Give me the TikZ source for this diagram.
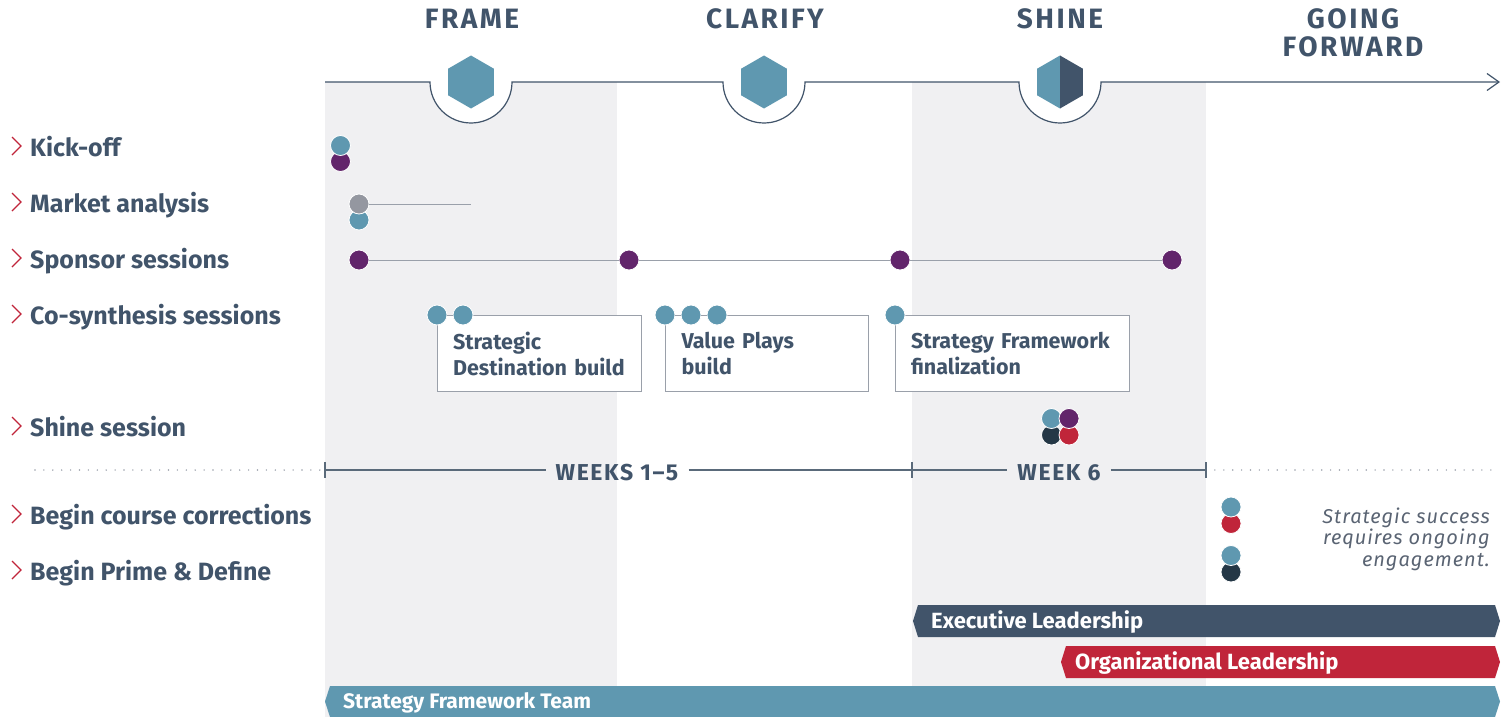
\documentclass[tikz,border=0pt]{standalone}
\usepackage{fontspec}
\setmainfont{Fira Sans}
\newfontfamily\ttlfont[LetterSpace=9]{Fira Sans}
\newfontfamily\wkfont[LetterSpace=7]{Fira Sans}
\newfontfamily\notefont[LetterSpace=5]{Fira Sans}
\usetikzlibrary{arrows.meta,calc}
\definecolor{cTeal}{HTML}{5F98B0}
\definecolor{cSlate}{HTML}{41546A}
\definecolor{cPurple}{HTML}{62256B}
\definecolor{cGrayDot}{HTML}{9497A0}
\definecolor{cRed}{HTML}{C0253A}
\definecolor{cNavy}{HTML}{243746}
\definecolor{cCol}{HTML}{F0F0F2}
\definecolor{cBox}{HTML}{9AA0AA}
\definecolor{cLine}{HTML}{5A6A7A}
\definecolor{cNote}{HTML}{5A6473}
\begin{document}
\begin{tikzpicture}[x=1pt,y=-1pt,
  dot/.style={circle,draw=white,line width=0.8pt,minimum size=20pt,inner sep=0pt},
  lbl/.style={anchor=base west,text=cSlate,font=\fontsize{25}{28}\selectfont\bfseries,inner sep=0pt},
  ttl/.style={anchor=base,text=cSlate,font=\ttlfont\fontsize{28}{28}\selectfont\bfseries,inner sep=0pt,align=center},
  wk/.style={text=cSlate,font=\wkfont\fontsize{23}{24}\selectfont\bfseries,inner xsep=10pt,inner ysep=0pt},
  sbox/.style={draw=cBox,line width=1pt,fill=white,anchor=north west,minimum height=76pt,align=left,inner xsep=16pt,inner ysep=0pt,text=cSlate,font=\fontsize{21.5}{26}\selectfont\bfseries},
  chev/.style={draw=cRed,line width=1.3pt},
  bartxt/.style={anchor=west,text=white,font=\fontsize{22}{24}\selectfont\bfseries,inner sep=0pt},
  conn/.style={draw=cBox,line width=1pt},
  topline/.style={draw=cSlate,line width=1.2pt}
]
\useasboundingbox (0,0) rectangle (1510,717);
% column backgrounds
\fill[cCol] (325,82) rectangle (617,717);
\fill[cCol] (912,82) rectangle (1206,717);
% notches
\fill[white] (430,82) arc[start angle=180,end angle=360,radius=41pt] -- cycle;
\fill[white] (723,82) arc[start angle=180,end angle=360,radius=41pt] -- cycle;
\fill[white] (1019,82) arc[start angle=180,end angle=360,radius=41pt] -- cycle;
\coordinate (lstart) at (325,82);
\coordinate (lend) at (1500,82);
\draw[topline,-{Straight Barb[length=12pt,width=17pt,line width=1.2pt]}] (lstart) -- (430,82)
  arc[start angle=180,end angle=360,radius=41pt] -- (723,82)
  arc[start angle=180,end angle=360,radius=41pt] -- (1019,82)
  arc[start angle=180,end angle=360,radius=41pt] -- (lend);
% hexagons
\begin{scope}[shift={(471,82)}]
  \fill[cTeal] (90:26.5pt) -- (150:26.5pt) -- (210:26.5pt) -- (270:26.5pt) -- (330:26.5pt) -- (30:26.5pt) -- cycle;
\end{scope}
\begin{scope}[shift={(764,82)}]
  \fill[cTeal] (90:26.5pt) -- (150:26.5pt) -- (210:26.5pt) -- (270:26.5pt) -- (330:26.5pt) -- (30:26.5pt) -- cycle;
\end{scope}
\begin{scope}[shift={(1060,82)}]
  \fill[cTeal] (90:26.5pt) -- (150:26.5pt) -- (210:26.5pt) -- (270:26.5pt) -- cycle;
  \fill[cSlate] (90:26.5pt) -- (30:26.5pt) -- (330:26.5pt) -- (270:26.5pt) -- cycle;
\end{scope}
% titles
\node[ttl] (tframe) at (472,29) {FRAME};
\node[ttl] (tclar) at (765,29) {CLARIFY};
\node[ttl] (tshine) at (1060,29) {SHINE};
\node[ttl] (tgo1) at (1353,29) {GOING};
\node[ttl] (tgo2) at (1353,57) {FORWARD};
% row labels
\foreach \b/\t/\n in {156/Kick-off/l1, 212/Market analysis/l2, 268/Sponsor sessions/l3, 324/Co-synthesis sessions/l4, 436/Shine session/l5, 524/Begin course corrections/l6, 580/Begin Prime \& Define/l7}{
  \node[lbl] (\n) at (30,\b) {\t};
  \draw[chev] (12,\b-19) -- (21,\b-10) -- (12,\b-1);
}
% kick-off dots
\node[dot,fill=cPurple] (k2) at (340.5,161.5) {};
\node[dot,fill=cTeal] (k1) at (340.5,145.5) {};
% market analysis
\coordinate (mend) at (471,204);
\node[dot,fill=cTeal] (m2) at (359,220) {};
\node[dot,fill=cGrayDot] (m1) at (359,204) {};
\draw[conn] (m1) -- (mend);
% sponsor sessions
\node[dot,fill=cPurple] (s1) at (359,260) {};
\node[dot,fill=cPurple] (s2) at (629,260) {};
\node[dot,fill=cPurple] (s3) at (900,260) {};
\node[dot,fill=cPurple] (s4) at (1172,260) {};
\draw[conn] (s1) -- (s2) (s2) -- (s3) (s3) -- (s4);
% co-synthesis boxes
\node[sbox,minimum width=204pt,text width=172pt] (b1) at (436.5,315) {Strategic\\Destination build};
\node[sbox,minimum width=203pt,text width=171pt] (b2) at (665,315) {Value Plays\\build};
\node[sbox,minimum width=234pt,text width=202pt] (b3) at (894.5,315) {Strategy Framework\\finalization};
\node[dot,fill=cTeal] (c1) at (437,315) {};
\node[dot,fill=cTeal] (c2) at (463,315) {};
\draw[conn] (c1) -- (c2);
\node[dot,fill=cTeal] (c3) at (665,315) {};
\node[dot,fill=cTeal] (c4) at (691,315) {};
\node[dot,fill=cTeal] (c5) at (717,315) {};
\draw[conn] (c3) -- (c4) (c4) -- (c5);
\node[dot,fill=cTeal] (c6) at (895,315) {};
% shine session dots
\node[dot,fill=cNavy] (h3) at (1051.5,435) {};
\node[dot,fill=cRed] (h4) at (1069,435) {};
\node[dot,fill=cTeal] (h1) at (1051.5,418.5) {};
\node[dot,fill=cPurple] (h2) at (1069,418.5) {};
% weeks line
\coordinate (d0) at (35,470);
\coordinate (t1) at (325,470);
\coordinate (t2) at (912,470);
\coordinate (t3) at (1206,470);
\coordinate (d1) at (1495,470);
\draw[cBox,line width=1.6pt,line cap=round,dash pattern=on 0pt off 8.9pt] (d0) -- (t1);
\draw[cBox,line width=1.6pt,line cap=round,dash pattern=on 0pt off 8.9pt] (t3) -- (d1);
\node[wk] (wk15) at (617,473) {WEEKS 1–5};
\node[wk] (wk6) at (1059,473) {WEEK 6};
\draw[cLine,line width=1.2pt] (t1) -- (wk15.west |- t1) (wk15.east |- t1) -- (t2) -- (wk6.west |- t2) (wk6.east |- t2) -- (t3);
\foreach \c in {t1,t2,t3}{\draw[cLine,line width=1.2pt] ($(\c)+(0,-8)$) -- ($(\c)+(0,8)$);}
% ongoing engagement
\node[dot,fill=cRed] (g2) at (1231,523.5) {};
\node[dot,fill=cTeal] (g1) at (1231,507) {};
\node[dot,fill=cNavy] (g4) at (1231,572) {};
\node[dot,fill=cTeal] (g3) at (1231,555.5) {};
\node[anchor=base east,inner sep=0pt,text=cNote,font=\notefont\fontsize{20}{21.5}\selectfont\itshape,align=right] (note) at (1490,566) {Strategic success\\requires ongoing\\engagement.};
% bars
\fill[cSlate] (918,605) -- (1495,605) -- (1500,621) -- (1495,637) -- (918,637) -- (913,621) -- cycle;
\node[bartxt] (exec) at (931,622) {Executive Leadership};
\fill[cRed] (1066,646) -- (1495,646) -- (1500,662) -- (1495,678) -- (1066,678) -- (1061,662) -- cycle;
\node[bartxt] (org) at (1075,663) {Organizational Leadership};
\fill[cTeal] (330,686) -- (1495,686) -- (1500,701.5) -- (1495,717) -- (330,717) -- (325,701.5) -- cycle;
\node[bartxt,font=\fontsize{21}{24}\selectfont\bfseries] (team) at (343,703) {Strategy Framework Team};
\end{tikzpicture}
\end{document}
